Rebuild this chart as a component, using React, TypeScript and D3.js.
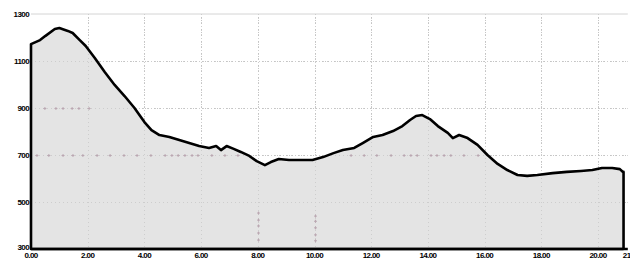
import React, { useRef, useEffect } from "react";
import * as d3 from "d3";

// profile (distance, elevation)
const distances = [
  0, 0.32, 0.5, 0.84, 1.0, 1.3, 1.47, 1.72, 1.93, 2.25, 2.6, 2.95, 3.3, 3.65, 4.0, 4.25, 4.53,
  4.88, 5.23, 5.58, 5.93, 6.28, 6.53, 6.7, 6.9, 7.15, 7.4, 7.7, 7.96, 8.25, 8.46, 8.74, 9.1,
  9.44, 9.93, 10.3, 10.67, 11.0, 11.4, 11.7, 12.07, 12.4, 12.77, 13.1, 13.37, 13.58, 13.8,
  14.07, 14.35, 14.7, 14.88, 15.1, 15.4, 15.75, 16.1, 16.46, 16.8, 17.16, 17.5, 17.86, 18.4,
  18.9, 19.4, 19.8, 20.14, 20.5, 20.77, 20.88, 20.9,
];
const elevations = [
  1172, 1189, 1206, 1236, 1240, 1228, 1219, 1189, 1164, 1113, 1053, 998, 951, 900, 840, 806, 785,
  777, 764, 751, 738, 730, 738, 721, 738, 726, 713, 696, 674, 657, 670, 683, 679,
  679, 679, 691, 708, 721, 730, 751, 777, 785, 802, 823, 849, 866, 870,
  853, 823, 794, 772, 785, 772, 743, 700, 662, 636, 615, 611, 615, 623,
  628, 632, 636, 645, 645, 640, 628, 628,
];

const xTicks = [0, 2, 4, 6, 8, 10, 12, 14, 16, 18, 20, 21.05];
const yTicks = [300, 500, 700, 900, 1100, 1300];

// small cross markers on the grid
const marks700 = [
  0.21, 0.63, 1.13, 1.48, 1.83, 2.33, 2.79, 3.28, 3.74, 4.23, 4.73, 4.97, 5.19, 5.43, 5.68,
  5.89, 6.38, 6.84, 7.3, 11.29, 11.75, 12.2, 12.7, 13.16, 13.4, 13.62, 14.11, 14.32, 14.57,
  14.81, 15.27, 15.77,
];
const marks900 = [0.49, 0.88, 1.13, 1.45, 1.69, 2.05];
const marksV8 = [453, 423, 398, 368, 338];
const marksV10 = [440, 418, 390, 360, 335];

const W = 630;
const H = 259;

const App = () => {
  const svgRef = useRef<SVGSVGElement>(null);

  useEffect(() => {
    const svg = d3.select(svgRef.current);
    svg.selectAll("*").remove();

    const x = d3.scaleLinear().domain([0, 21.05]).range([31, 627.8]);
    const y = d3.scaleLinear().domain([300, 1300]).range([249, 14]);

    const pts: [number, number][] = distances.map((d, i) => [d, elevations[i]]);
    const inner = yTicks.filter((t) => t !== 300 && t !== 1300);
    const vert = xTicks.filter((t) => t > 0 && t < 21);

    const drawGrid = (g, color, dash) => {
      g.selectAll("line.h")
        .data(inner)
        .enter()
        .append("line")
        .attr("x1", x(0))
        .attr("x2", x(21.05))
        .attr("y1", (d) => y(d) + 0.5)
        .attr("y2", (d) => y(d) + 0.5)
        .attr("stroke", color)
        .attr("stroke-dasharray", dash);
      g.selectAll("line.v")
        .data(vert)
        .enter()
        .append("line")
        .attr("x1", (d) => Math.round(x(d)) + 0.5)
        .attr("x2", (d) => Math.round(x(d)) + 0.5)
        .attr("y1", y(1300))
        .attr("y2", y(300))
        .attr("stroke", color)
        .attr("stroke-dasharray", dash);
    };

    // grid
    const grid = svg.append("g");
    grid
      .append("line")
      .attr("x1", x(0))
      .attr("x2", x(21.05))
      .attr("y1", y(1300))
      .attr("y2", y(1300))
      .attr("stroke", "#d4d4d4");
    drawGrid(grid, "#c4c4c4", "1,2");

    // filled area
    const area = d3
      .area<[number, number]>()
      .x((d) => x(d[0]))
      .y0(y(300))
      .y1((d) => y(d[1]));
    svg.append("path").datum(pts).attr("d", area).attr("fill", "#e4e4e4");

    // grid shows faintly through the fill
    const grid2 = svg.append("g");
    drawGrid(grid2, "#cdcdcd", "1,3");

    // cross markers
    const cross = (cx: number, cy: number) => {
      grid2
        .append("path")
        .attr("d", `M${cx - 1.5},${cy}H${cx + 1.5}M${cx},${cy - 1.5}V${cy + 1.5}`)
        .attr("stroke", "#bba8b2")
        .attr("stroke-width", 1);
    };
    marks700.forEach((d) => cross(x(d), y(700) + 0.5));
    marks900.forEach((d) => cross(x(d), y(900) + 0.5));
    marksV8.forEach((v) => cross(Math.round(x(8)) + 0.5, y(v)));
    marksV10.forEach((v) => cross(Math.round(x(10)) + 0.5, y(v)));

    // outline: up the left, along the profile, down the right, and the base
    const last = distances[distances.length - 1];
    const outline: [number, number][] = [[last, 300], [0, 300], ...pts, [last, 300]];
    const line = d3
      .line<[number, number]>()
      .x((d) => x(d[0]))
      .y((d) => y(d[1]));
    svg
      .append("path")
      .datum(outline)
      .attr("d", line)
      .attr("fill", "none")
      .attr("stroke", "#000")
      .attr("stroke-width", 2.6)
      .attr("stroke-linejoin", "round");
    svg
      .append("line")
      .attr("x1", x(0))
      .attr("x2", x(21.05))
      .attr("y1", y(300))
      .attr("y2", y(300))
      .attr("stroke", "#000")
      .attr("stroke-width", 2.6);

    // axis labels
    svg
      .append("g")
      .selectAll("text")
      .data(yTicks)
      .enter()
      .append("text")
      .attr("x", 29)
      .attr("y", (d) => y(d) + (d === 300 ? 1 : 3))
      .attr("text-anchor", "end")
      .attr("font-family", "Liberation Sans, Arial, sans-serif")
      .attr("font-size", 8)
      .attr("font-weight", "bold")
      .attr("letter-spacing", -0.6)
      .text((d) => d);
    svg
      .append("g")
      .selectAll("text")
      .data(xTicks)
      .enter()
      .append("text")
      .attr("x", (d) => x(d))
      .attr("y", 258)
      .attr("text-anchor", (d) => (d > 21 ? "start" : "middle"))
      .attr("dx", (d) => (d > 21 ? -5 : 0))
      .attr("font-family", "Liberation Sans, Arial, sans-serif")
      .attr("font-size", 8)
      .attr("font-weight", "bold")
      .attr("letter-spacing", -0.6)
      .text((d) => d.toFixed(2));
  }, []);

  return (
    <div style={{ position: "fixed", left: 0, top: 0, width: W, height: H, background: "#fff" }}>
      <svg ref={svgRef} width={W} height={H} style={{ display: "block" }}></svg>
    </div>
  );
};

export default App;
